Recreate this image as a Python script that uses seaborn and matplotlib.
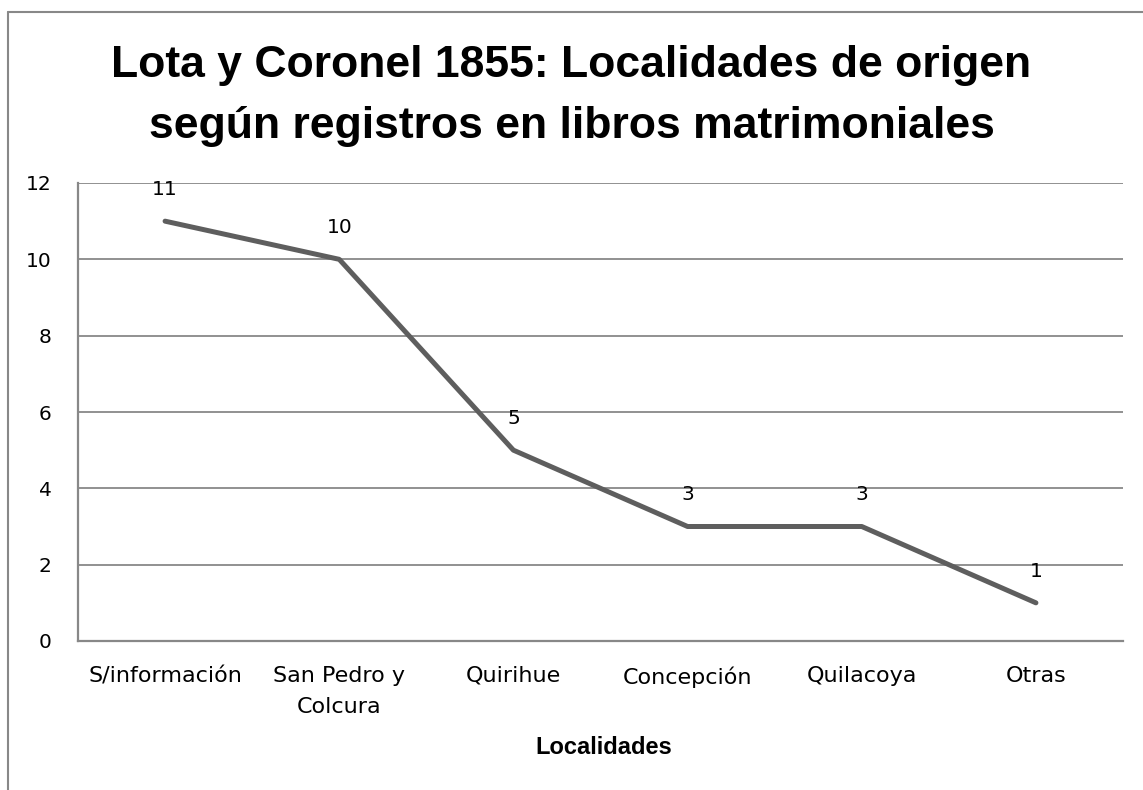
import pandas as pd
import seaborn as sns
import matplotlib.pyplot as plt
from matplotlib.lines import Line2D

# Data
localidades = ['S/información', 'San Pedro y\nColcura', 'Quirihue', 'Concepción', 'Quilacoya', 'Otras']
registros = [11, 10, 5, 3, 3, 1]
y_ticks = [0, 2, 4, 6, 8, 10, 12]

df = pd.DataFrame({'localidad': localidades, 'registros': registros})

sns.set_style('white')
plt.rcParams['font.family'] = ['DejaVu Sans']
plt.rcParams['text.color'] = 'black'

grey = '#888888'
line_col = '#5e5e5e'
W, H = 1143, 790

fig = plt.figure(figsize=(W / 100, H / 100), dpi=100)
ax = fig.add_axes([78 / W, 1 - 641 / H, (1123 - 78) / W, (641 - 183) / H])

sns.lineplot(data=df, x='localidad', y='registros', ax=ax, color=line_col,
             linewidth=3.6, sort=False, solid_capstyle='round')

# Data labels above each point
for i, v in enumerate(df['registros']):
    ax.annotate(str(v), (i, v), xytext=(0, 16), textcoords='offset points',
                ha='center', va='bottom', fontsize=14.5, color='black')

ax.set_xlim(-0.5, len(localidades) - 0.5)
ax.set_ylim(0, 12)
ax.set_yticks(y_ticks)
ax.yaxis.grid(True, color=grey, linewidth=1.3)
ax.set_axisbelow(True)
for s in ['top', 'right']:
    ax.spines[s].set_visible(False)
for s in ['left', 'bottom']:
    ax.spines[s].set_color(grey)
    ax.spines[s].set_linewidth(1.6)
ax.tick_params(axis='both', length=0, colors='black')
ax.tick_params(axis='y', pad=19, labelsize=14.5)
ax.tick_params(axis='x', pad=18, labelsize=16)
for lbl in ax.get_xticklabels():
    lbl.set_linespacing(1.7)
ax.set_ylabel('')
ax.set_xlabel('')

# Axis title
fig.text(604 / W, 1 - 747 / H, 'Localidades', ha='center', va='center',
         fontsize=17, fontweight='bold', family='Liberation Sans')

# Chart title (two lines)
fig.text(0.5, 1 - 77 / H, 'Lota y Coronel 1855: Localidades de origen', ha='center', va='baseline',
         fontsize=32, fontweight='bold', family='Liberation Sans')
fig.text(0.5, 1 - 138 / H, 'según registros en libros matrimoniales', ha='center', va='baseline',
         fontsize=32, fontweight='bold', family='Liberation Sans')

# Chart-area border (extends past the right and bottom edges)
fig.add_artist(Line2D([8 / W, 8 / W], [0, 1 - 12 / H], transform=fig.transFigure, color=grey, linewidth=1.5))
fig.add_artist(Line2D([8 / W, 1], [1 - 12 / H, 1 - 12 / H], transform=fig.transFigure, color=grey, linewidth=1.5))

fig.savefig('out.png', dpi=100)
